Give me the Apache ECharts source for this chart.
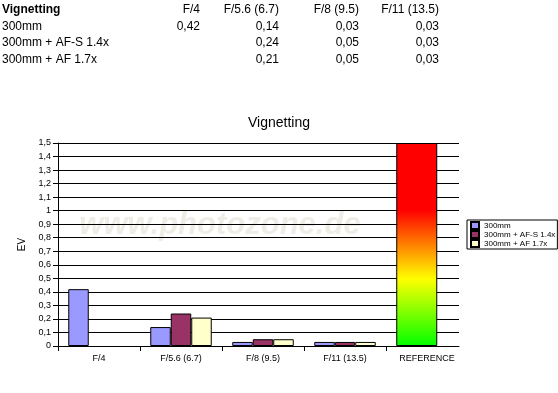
<!DOCTYPE html>
<html><head><meta charset="utf-8">
<script src="https://cdn.jsdelivr.net/npm/echarts@6/dist/echarts.min.js"></script>
<style>html,body{margin:0;padding:0;background:#fff}#c{width:558px;height:393px}</style>
</head><body><div id="c"></div><script>
const categories = ['F/4', 'F/5.6 (6.7)', 'F/8 (9.5)', 'F/11 (13.5)', 'REFERENCE'];
const tableHeaders = ['F/4', 'F/5.6 (6.7)', 'F/8 (9.5)', 'F/11 (13.5)'];
const seriesNames = ['300mm', '300mm + AF-S 1.4x', '300mm + AF 1.7x'];
const s300 = [0.42, 0.14, 0.03, 0.03];
const s14 = [null, 0.24, 0.05, 0.03];
const s17 = [null, 0.21, 0.05, 0.03];
const referenceValue = 1.5;
const yTicks = { min: 0, max: 1.5, interval: 0.1 };

const FONT = 'Liberation Sans, Arial, sans-serif';
const colors = ['#9999ff', '#993366', '#ffffcc'];
const allSeries = [s300, s14, s17];

const fmt = v => v == null ? '' : v.toFixed(2).replace('.', ',');

// table graphic
const colRight = [200, 279, 359, 439];
const rowY = [10, 27, 43, 60];
const graphics = [];
const txt = (text, x, y, align, bold) => ({ type: 'text', style: { text, x, y, font: (bold ? 'bold ' : '') + '12px ' + FONT, fill: '#000', align, verticalAlign: 'middle', textAlign: align, textVerticalAlign: 'middle' } });
graphics.push(txt('Vignetting', 2, rowY[0], 'left', true));
tableHeaders.forEach((h, i) => graphics.push(txt(h, colRight[i], rowY[0], 'right')));
seriesNames.forEach((n, r) => {
  graphics.push(txt(n, 2, rowY[r + 1], 'left'));
  allSeries[r].forEach((v, i) => graphics.push(txt(fmt(v), colRight[i], rowY[r + 1], 'right')));
});
// watermark
graphics.push({ type: 'text', z: -1, silent: true, style: { text: 'www.photozone.de', x: 220, y: 225, font: 'italic bold 31px ' + FONT, fill: '#efede6', align: 'center', verticalAlign: 'middle', textAlign: 'center', textVerticalAlign: 'middle', shadowColor: 'rgba(0,0,0,0.15)', shadowBlur: 3, shadowOffsetX: 1, shadowOffsetY: 1 } });

const pad = arr => arr.concat([null]);

const option = {
  animation: false,
  backgroundColor: '#fff',
  title: { text: 'Vignetting', left: 'center', top: 111, textStyle: { fontFamily: FONT, fontSize: 14, fontWeight: 'normal', color: '#000' } },
  legend: {
    data: seriesNames, orient: 'vertical', left: 467, top: 220,
    itemWidth: 8, itemHeight: 7, itemGap: 0, padding: [1, 2, 1, 3],
    borderColor: '#000', borderWidth: 1, icon: 'rect',
    textStyle: { fontFamily: FONT, fontSize: 8, color: '#000', lineHeight: 7 }
  },
  grid: [
    { left: 58, right: 99, top: 143, bottom: 47 },
    { left: 58, right: 90, top: 143, bottom: 47 },
    { left: 58, right: 172, top: 143, bottom: 47 }
  ],
  xAxis: [
    { gridIndex: 0, type: 'value', min: 0, max: 1, axisLine: { show: true, lineStyle: { color: '#000', width: 1 } }, axisTick: { show: false }, axisLabel: { show: false }, splitLine: { show: false } },
    { gridIndex: 1, type: 'category', data: categories, axisLine: { show: false }, axisTick: { show: false }, axisLabel: { fontFamily: FONT, fontSize: 9, color: '#000', margin: 8, interval: 0 }, splitLine: { show: false } },
    { gridIndex: 1, type: 'category', data: categories, show: false },
    { gridIndex: 2, type: 'category', data: tableHeaders, axisLine: { show: false }, axisLabel: { show: false }, axisTick: { show: true, length: 5, interval: 0, lineStyle: { color: '#000' } }, splitLine: { show: false } }
  ],
  yAxis: [
    { gridIndex: 0, type: 'value', min: yTicks.min, max: yTicks.max, interval: yTicks.interval,
      name: 'EV', nameLocation: 'middle', nameRotate: 90, nameGap: 30,
      nameTextStyle: { fontFamily: FONT, fontSize: 10, color: '#000' },
      axisLine: { show: true, lineStyle: { color: '#000', width: 1 } },
      axisTick: { show: true, length: 5, lineStyle: { color: '#000' } },
      axisLabel: { fontFamily: FONT, fontSize: 9, color: '#000', margin: 7, formatter: v => String(+v.toFixed(1)).replace('.', ',') },
      splitLine: { show: true, lineStyle: { color: '#000', width: 1 } } },
    { gridIndex: 1, type: 'value', min: yTicks.min, max: yTicks.max, interval: yTicks.interval, show: false, splitLine: { show: false } },
    { gridIndex: 2, type: 'value', min: yTicks.min, max: yTicks.max, show: false, splitLine: { show: false } }
  ],
  series: [
    ...seriesNames.map((n, i) => ({
      name: n, type: 'bar', xAxisIndex: 1, yAxisIndex: 1, data: pad(allSeries[i]),
      barGap: 0, barCategoryGap: '25%',
      itemStyle: { color: colors[i], borderColor: '#000', borderWidth: 1 }
    })),
    {
      name: 'REFERENCE', type: 'bar', xAxisIndex: 2, yAxisIndex: 1,
      data: [null, null, null, null, referenceValue],
      barWidth: 41, barGap: 0,
      itemStyle: {
        borderColor: '#000', borderWidth: 1,
        color: new echarts.graphic.LinearGradient(0, 0, 0, 1, [
          { offset: 0, color: '#ff0000' },
          { offset: 0.33, color: '#ff0000' },
          { offset: 0.5, color: '#ff8000' },
          { offset: 0.67, color: '#ffff00' },
          { offset: 1, color: '#00ff00' }
        ])
      }
    },
    {
      name: 'spacer', type: 'bar', xAxisIndex: 2, yAxisIndex: 1,
      data: [null, null, null, null, 0], barWidth: 20.5, barGap: 0, silent: true,
      itemStyle: { opacity: 0 }
    }
  ],
  graphic: graphics
};

const chart = echarts.init(document.getElementById('c'));
chart.setOption(option);
</script></body></html>
